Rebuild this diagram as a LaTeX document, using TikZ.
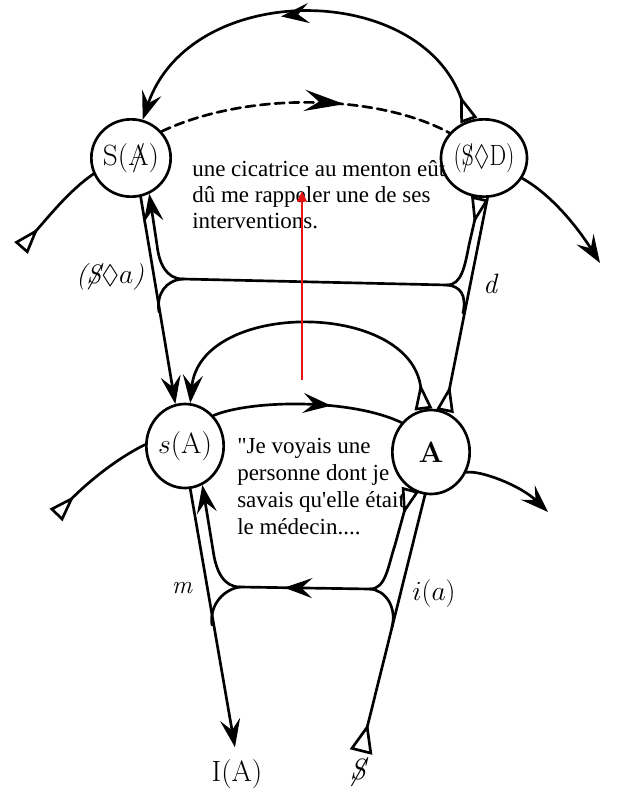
\documentclass[tikz,border=0pt]{standalone}
\usepackage{fontspec}
\usepackage{amssymb}
\usepackage{graphicx}
\usetikzlibrary{arrows.meta,decorations.markings,shapes.geometric}
\newfontfamily\tfont{Liberation Serif}[Ligatures=TeXOff]
\newcommand\barthis[1]{\ooalign{#1\cr\hidewidth/\hidewidth\cr}}
\definecolor{redline}{RGB}{230,20,20}
\begin{document}
\begin{tikzpicture}[x={(0.75pt,0)}, y={(0,-0.75pt)},
  barb/.tip={Stealth[length=21pt,width=15pt,inset=8pt]},
  dbarb/.tip={Stealth[length=30pt,width=16pt,inset=11pt]},
  tail/.tip={Triangle[open,reversed,length=20pt,width=13pt]},
  tailbig/.tip={Triangle[open,reversed,length=22pt,width=17pt]},
  ln/.style={line width=2pt, line cap=round, line join=round},
  circ/.style={draw, ellipse, line width=2pt, inner sep=0pt, minimum width=58pt, minimum height=58pt, font=\fontsize{22}{24}\selectfont},
  ecirc/.style={circ, minimum height=63pt},
  lab/.style={inner sep=0pt, font=\fontsize{20}{24}\selectfont},
  txt/.style={anchor=base west, inner sep=0pt, font=\tfont\fontsize{17.25}{19.5}\selectfont},
  midarrow/.style={postaction={decorate,decoration={markings,mark=at position #1 with {\arrow{barb}}}}},
  dmid/.style={postaction={decorate,decoration={markings,mark=at position #1 with {\arrow{dbarb}}}}}
]
\useasboundingbox (0,0) rectangle (627,800);
\fill[white] (0,0) rectangle (627,800);

% nodes
\node[circ] (SA) at (131,158) {S(\barthis{A})};
\node[circ] (SD) at (484,158) {\scalebox{0.8}[1]{(\barthis{S}$\lozenge$D)}};
\node[ecirc] (sA) at (185,446) {$s$(A)};
\node[ecirc] (A) at (431,452) {\bfseries A};

\node[lab, font=\fontsize{20}{22}\selectfont\itshape] (Sa) at (110,277) {(\barthis{S}$\lozenge$$a$)};
\node[lab, font=\fontsize{21}{22}\selectfont\itshape] (dl) at (490,284) {d};
\node[lab, font=\fontsize{19}{22}\selectfont\itshape] (ml) at (182,588) {m};
\node[lab, font=\fontsize{20}{22}\selectfont] (ia) at (434,594) {$i(a)$};
\node[lab, font=\fontsize{22}{24}\selectfont] (IA) at (237,774) {I(A)};
\node[lab, font=\fontsize{22}{24}\selectfont\itshape] (Sb) at (358,773) {\barthis{S}};

% junctions
\coordinate (JL1) at (183,279);
\coordinate (JR1) at (447,285);
\coordinate (JL2) at (240,587);
\coordinate (JR2) at (370,589);
\coordinate (ML1) at (159,312);
\coordinate (MR1) at (463,313);
\coordinate (ML2) at (212,625);
\coordinate (MR2) at (392,627);
\coordinate (tl1) at (21,248);
\coordinate (tl2) at (56,515);
\coordinate (tl3) at (361,752);
\coordinate (hr1) at (600,263);
\coordinate (hr2) at (548,512);

% upper level
\draw[ln, {tail}-{barb}, midarrow=0.56] (SD.112) .. controls (420,-20) and (190,-20) .. (SA.73);
\draw[ln, dash pattern=on 7pt off 4pt, dmid=0.63] (SA.41) .. controls (250,90) and (380,95) .. (SD.144);
\draw[ln, {tail}-] (tl1) .. controls (50,215) and (70,190) .. (SA.203);
\draw[ln, -{barb}] (SD.-28) .. controls (552,195) and (578,228) .. (hr1);

% verticals upper
\draw[ln, -{barb}] (SA.-76) -- (sA.103);
\draw[ln, -{barb}] (JL1) .. controls (166,279) and (159,263) .. (157,245) -- (SA.-63);
\draw[ln] (JL1) .. controls (166,280) and (156,294) .. (ML1);
\draw[ln] (JL1) -- (JR1);
\draw[ln, -{tail}] (JR1) .. controls (462,285) and (465,265) .. (469,245) -- (SD.-96);
\draw[ln] (JR1) .. controls (460,286) and (467,295) .. (MR1);
\draw[ln, -{tail}] (SD.-85) -- (A.71);

% lower level
\draw[ln, {tail}-{barb}] (A.100) .. controls (410,300) and (200,300) .. (sA.83);
\draw[ln, midarrow=0.62] (sA.47) .. controls (250,400) and (350,398) .. (A.135);
\draw[ln, {tail}-] (tl2) .. controls (80,490) and (110,462) .. (sA.178);
\draw[ln, -{barb}] (A.-30) .. controls (480,470) and (520,485) .. (hr2);

% verticals lower
\draw[ln, -{barb}, shorten >=9pt] (sA.-83) -- (IA.north);
\draw[ln, -{barb}] (JL2) .. controls (224,587) and (216,572) .. (213,550) -- (sA.-66);
\draw[ln] (JL2) .. controls (224,589) and (209,605) .. (ML2);
\draw[ln, midarrow=0.66] (JR2) -- (JL2);
\draw[ln, -{tail}] (JR2) .. controls (386,589) and (388,566) .. (395,545) -- (A.-119);
\draw[ln] (JR2) .. controls (386,590) and (397,608) .. (MR2);
\draw[ln, {tailbig}-] (tl3) -- (A.-98);

% overlay text
\node[txt] (t1) at (192,176) {une cicatrice au menton eût};
\node[txt] (t2) at (192,202) {dû me rappeler une de ses};
\node[txt] (t3) at (192,228) {interventions.};
\node[txt] (t4) at (237,453) {"Je voyais une};
\node[txt] (t5) at (237,480) {personne dont je};
\node[txt] (t6) at (237,507) {savais qu'elle était};
\node[txt] (t7) at (237,534) {le médecin....};

% red arrow
\coordinate (r1) at (302,380);
\coordinate (r2) at (302,191);
\draw[redline, line width=2.2pt, -{Triangle[length=8pt,width=7pt]}] (r1) -- (r2);
\end{tikzpicture}
\end{document}
